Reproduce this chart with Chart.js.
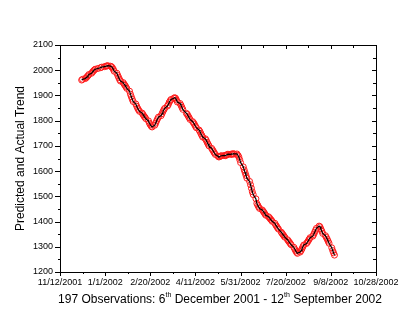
<!DOCTYPE html>
<html>
<head>
<meta charset="utf-8">
<script src="https://cdn.jsdelivr.net/npm/chart.js@4/dist/chart.umd.min.js"></script>
<style>
html,body{margin:0;padding:0;background:#fff;}
canvas{display:block;}
</style>
</head>
<body>
<canvas id="c" width="415" height="321"></canvas>
<script>
// ---- data ----
const axisStart = '2001-11-12';       // x-axis origin (day 0)
const axisEnd = '2002-10-28';         // x-axis end
const firstObs = '2001-12-06';
const lastObs = '2002-09-12';
const closedDays = ['2001-12-25','2001-12-26','2002-01-01','2002-03-29'];
const yTicksMin = 1200, yTicksMax = 2100;
const yAxisTitle = 'Predicted and Actual Trend';
const xTitleParts = ['197 Observations: 6', 'th', ' December 2001 - 12', 'th', ' September 2002'];

// weekly blocks of trading-day values
const trendValues = [
  1961, 1964,
  1967, 1970, 1974, 1978, 1983,
  1988, 1993, 1997, 2001, 2004,
  2007, 2010, 2012,
  2014, 2016, 2017, 2018,
  2016, 2014, 2010, 2004, 1996,
  1988, 1979, 1971, 1963, 1957,
  1951, 1945, 1940, 1934, 1928,
  1917, 1905, 1895, 1885, 1876,
  1866, 1857, 1849, 1843, 1837,
  1830, 1824, 1818, 1814, 1808,
  1799, 1790, 1784, 1778, 1775,
  1782, 1790, 1799, 1807, 1814,
  1820, 1828, 1836, 1843, 1849,
  1858, 1864, 1873, 1879, 1884,
  1889, 1891, 1889, 1882, 1874,
  1868, 1861, 1853, 1845,
  1829, 1825, 1818, 1812, 1805,
  1796, 1791, 1785, 1778, 1772,
  1763, 1757, 1749, 1742, 1735,
  1728, 1722, 1714, 1707, 1700,
  1690, 1684, 1678, 1672, 1666,
  1659, 1656, 1658, 1660, 1661,
  1662, 1661, 1663, 1665, 1667,
  1666, 1668, 1667, 1669, 1668,
  1668, 1663, 1657, 1646, 1634,
  1617, 1605, 1594, 1583, 1572,
  1559, 1546, 1532, 1518, 1507,
  1490, 1472, 1465, 1458, 1452,
  1446, 1441, 1436, 1430, 1425,
  1419, 1415, 1410, 1406, 1401,
  1393, 1386, 1381, 1375, 1370,
  1358, 1353, 1348, 1343, 1338,
  1328, 1323, 1318, 1313, 1308,
  1298, 1291, 1284, 1278, 1274,
  1279, 1285, 1292, 1300, 1307,
  1313, 1318, 1324, 1330, 1336,
  1342, 1349, 1357, 1365, 1373,
  1382, 1379, 1370, 1362, 1353,
  1344, 1337, 1330, 1322, 1314,
  1296, 1285, 1276, 1267
];

// ---- build category dates (trading days) ----
const DAY = 86400000;
function utc(s){ const p=s.split('-').map(Number); return Date.UTC(p[0],p[1]-1,p[2]); }
const t0 = utc(axisStart);
const tradingDays = [];
for (let t = utc(firstObs); t <= utc(lastObs); t += DAY) {
  const d = new Date(t);
  const wd = d.getUTCDay();
  const iso = d.toISOString().slice(0,10);
  if (wd === 0 || wd === 6 || closedDays.includes(iso)) continue;
  tradingDays.push((t - t0) / DAY);
}
const points = tradingDays.map((x,i) => ({x: x, y: trendValues[i]}));
const xMax = (utc(axisEnd) - t0) / DAY;

function fmtDay(v){
  const d = new Date(t0 + v*DAY);
  return (d.getUTCMonth()+1) + '/' + d.getUTCDate() + '/' + d.getUTCFullYear();
}

const FONT = "'Liberation Sans', Arial, sans-serif";

const framePlugin = {
  id: 'frame',
  afterDraw(chart){
    const {ctx, chartArea: a, scales: {x, y}} = chart;
    ctx.save();
    ctx.strokeStyle = '#000';
    ctx.lineWidth = 1;
    ctx.beginPath();
    ctx.rect(Math.round(a.left)+0.5, Math.round(a.top)+0.5, Math.round(a.right-a.left), Math.round(a.bottom-a.top));
    ctx.stroke();
    ctx.beginPath();
    x.ticks.forEach(t => {
      const px = Math.round(x.getPixelForValue(t.value)) + 0.5;
      const major = (t.value % 50) === 0;
      const L = major ? 4 : 3;
      ctx.moveTo(px, a.bottom); ctx.lineTo(px, a.bottom + (major ? 4 : 2));
      ctx.moveTo(px, a.top); ctx.lineTo(px, a.top + L);
    });
    y.ticks.forEach(t => {
      const py = Math.round(y.getPixelForValue(t.value)) + 0.5;
      const major = (t.value % 100) === 0;
      const L = major ? 4 : 3;
      ctx.moveTo(a.left - (major ? 5 : 2), py); ctx.lineTo(a.left, py);
      ctx.moveTo(a.right, py); ctx.lineTo(a.right - L, py);
    });
    ctx.stroke();

    // titles
    ctx.fillStyle = '#000';
    ctx.font = '12px ' + FONT;
    ctx.textBaseline = 'middle';
    // y title
    ctx.save();
    ctx.translate(21, (a.top + a.bottom)/2);
    ctx.rotate(-Math.PI/2);
    ctx.textAlign = 'center';
    ctx.fillText(yAxisTitle, 0, 0);
    ctx.restore();
    // x title with superscripts
    const supFont = '7px ' + FONT;
    const normFont = '12px ' + FONT;
    let total = 0;
    xTitleParts.forEach((s,i) => { ctx.font = (i%2===1) ? supFont : normFont; total += ctx.measureText(s).width; });
    let cx = (a.left + a.right)/2 + 2 - total/2;
    const cy = 300;
    ctx.textAlign = 'left';
    xTitleParts.forEach((s,i) => {
      const sup = i%2===1;
      ctx.font = sup ? supFont : normFont;
      ctx.fillText(s, cx, sup ? cy - 5 : cy);
      cx += ctx.measureText(s).width;
    });
    ctx.restore();
  }
};

new Chart(document.getElementById('c'), {
  type: 'scatter',
  data: {
    datasets: [
      {
        label: 'Predicted',
        data: points,
        showLine: true,
        borderColor: '#000',
        borderWidth: 1.2,
        pointRadius: 0,
        fill: false,
        order: 0
      },
      {
        label: 'Actual',
        data: points,
        showLine: false,
        borderColor: '#ff0000',
        backgroundColor: 'rgba(0,0,0,0)',
        pointBorderColor: '#ff1a1a',
        pointBackgroundColor: 'rgba(0,0,0,0)',
        pointRadius: 3,
        pointBorderWidth: 1,
        order: 1
      }
    ]
  },
  options: {
    responsive: false,
    animation: false,
    events: [],
    layout: { padding: { left: 0, top: 45, right: 39, bottom: 0 } },
    plugins: { legend: { display: false }, tooltip: { enabled: false } },
    scales: {
      x: {
        type: 'linear',
        min: 0, max: xMax,
        afterFit(s){ s.height = 49; },
        border: { display: false },
        grid: { display: true, drawOnChartArea: false, drawTicks: true, tickLength: 4, color: 'rgba(0,0,0,0)' },
        ticks: {
          stepSize: 25,
          autoSkip: false,
          maxRotation: 0,
          padding: 1,
          color: '#000',
          font: { family: FONT, size: 9 },
          callback: v => (v % 50 === 0) ? fmtDay(v) : ''
        }
      },
      y: {
        min: yTicksMin, max: yTicksMax,
        afterFit(s){ s.width = 60; },
        border: { display: false },
        grid: { display: true, drawOnChartArea: false, drawTicks: true, tickLength: 5, color: 'rgba(0,0,0,0)' },
        ticks: {
          stepSize: 50,
          autoSkip: false,
          padding: 2,
          color: '#000',
          font: { family: FONT, size: 9 },
          callback: v => (v % 100 === 0) ? String(v) : ''
        }
      }
    }
  },
  plugins: [framePlugin]
});
</script>
</body>
</html>
